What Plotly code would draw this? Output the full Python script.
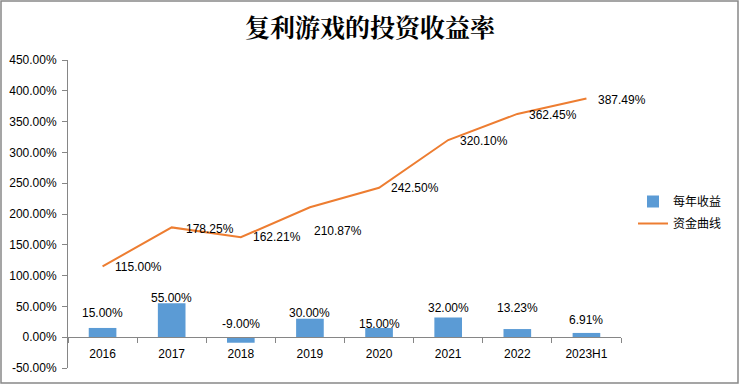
import plotly.graph_objects as go

categories = ["2016", "2017", "2018", "2019", "2020", "2021", "2022", "2023H1"]
annual_return = [15.00, 55.00, -9.00, 30.00, 15.00, 32.00, 13.23, 6.91]
capital_curve = [115.00, 178.25, 162.21, 210.87, 242.50, 320.10, 362.45, 387.49]
y_ticks = [-50, 0, 50, 100, 150, 200, 250, 300, 350, 400, 450]

# label offsets (px) as placed in the reference
bar_label_shift = [15, 5, 19, 6, 4, 9, 21, 13]
line_label_xshift = [10, 12, 10, 2, 10, 10, 10, 10]
line_label_yshift = [-1, -2, 0, -24, 0, -1, -1, -1]

W, H = 740, 385
L, R, T, B = 68, 119, 60, 17
pw, ph = W - L - R, H - T - B

FONT = "Liberation Sans, Arial, sans-serif"

fig = go.Figure()
fig.add_trace(go.Bar(
    x=categories, y=annual_return, name="每年收益", legendgroup="a",
    marker=dict(color="#5B9BD5", line=dict(width=0)),
))
fig.add_trace(go.Scatter(
    x=categories, y=capital_curve, name="资金曲线", mode="lines", legendgroup="b",
    line=dict(color="#ED7D31", width=2),
))

annotations = []
for i, (v, s) in enumerate(zip(annual_return, bar_label_shift)):
    annotations.append(dict(x=i, y=v, text=f"{v:.2f}%", showarrow=False,
                            yshift=s, xanchor="center", yanchor="middle",
                            font=dict(size=12, color="#000", family=FONT)))
for i, (v, xs, ys) in enumerate(zip(capital_curve, line_label_xshift, line_label_yshift)):
    annotations.append(dict(x=i, y=v, text=f"{v:.2f}%", showarrow=False,
                            xshift=xs, yshift=ys, xanchor="left", yanchor="middle",
                            font=dict(size=12, color="#000", family=FONT)))

fig.update_layout(
    width=W, height=H,
    margin=dict(l=L, r=R, t=T, b=B, pad=0, autoexpand=False),
    paper_bgcolor="white", plot_bgcolor="white",
    title=dict(text="<b>复利游戏的投资收益率</b>", x=0.5, xref="container", xanchor="center",
               y=1 - 28 / H, yanchor="middle", automargin=False,
               font=dict(size=25, color="#000", family="Noto Serif CJK SC, Noto Sans CJK SC")),
    bargap=0.6,
    showlegend=True,
    legend=dict(x=(633 - L) / pw, y=(H - B - 187) / ph, xanchor="left", yanchor="top",
                font=dict(size=12, color="#000", family="Noto Sans CJK SC"),
                bgcolor="rgba(0,0,0,0)", itemwidth=30, tracegroupgap=3),
    annotations=annotations,
    xaxis=dict(
        type="category", anchor="free", position=50 / 500, automargin=False,
        range=[-0.5, len(categories) - 0.5], autorange=False,
        showline=True, linecolor="#868686", linewidth=1,
        ticks="outside", tickson="boundaries", ticklen=5, tickcolor="#868686",
        showgrid=False, zeroline=False, tickangle=0, ticklabelstandoff=5,
        tickfont=dict(size=12, color="#000", family=FONT),
    ),
    yaxis=dict(
        range=[-50, 450], autorange=False, tickvals=y_ticks, automargin=False,
        ticktext=[f"{v:.2f}%" for v in y_ticks], ticklabelstandoff=3,
        showline=True, linecolor="#868686", linewidth=1,
        ticks="outside", ticklen=5, tickcolor="#868686",
        showgrid=False, zeroline=False,
        tickfont=dict(size=12, color="#000", family=FONT),
    ),
    shapes=[dict(type="rect", xref="paper", yref="paper",
                 x0=-(L - 1) / pw, x1=1 + (R - 2) / pw,
                 y0=-(B - 2) / ph, y1=1 + (T - 1) / ph,
                 line=dict(color="#888888", width=1.5))],
)

fig.write_html("out.html", config={"displayModeBar": False},
               post_script="document.body.style.margin='0';document.body.style.padding='0';")
